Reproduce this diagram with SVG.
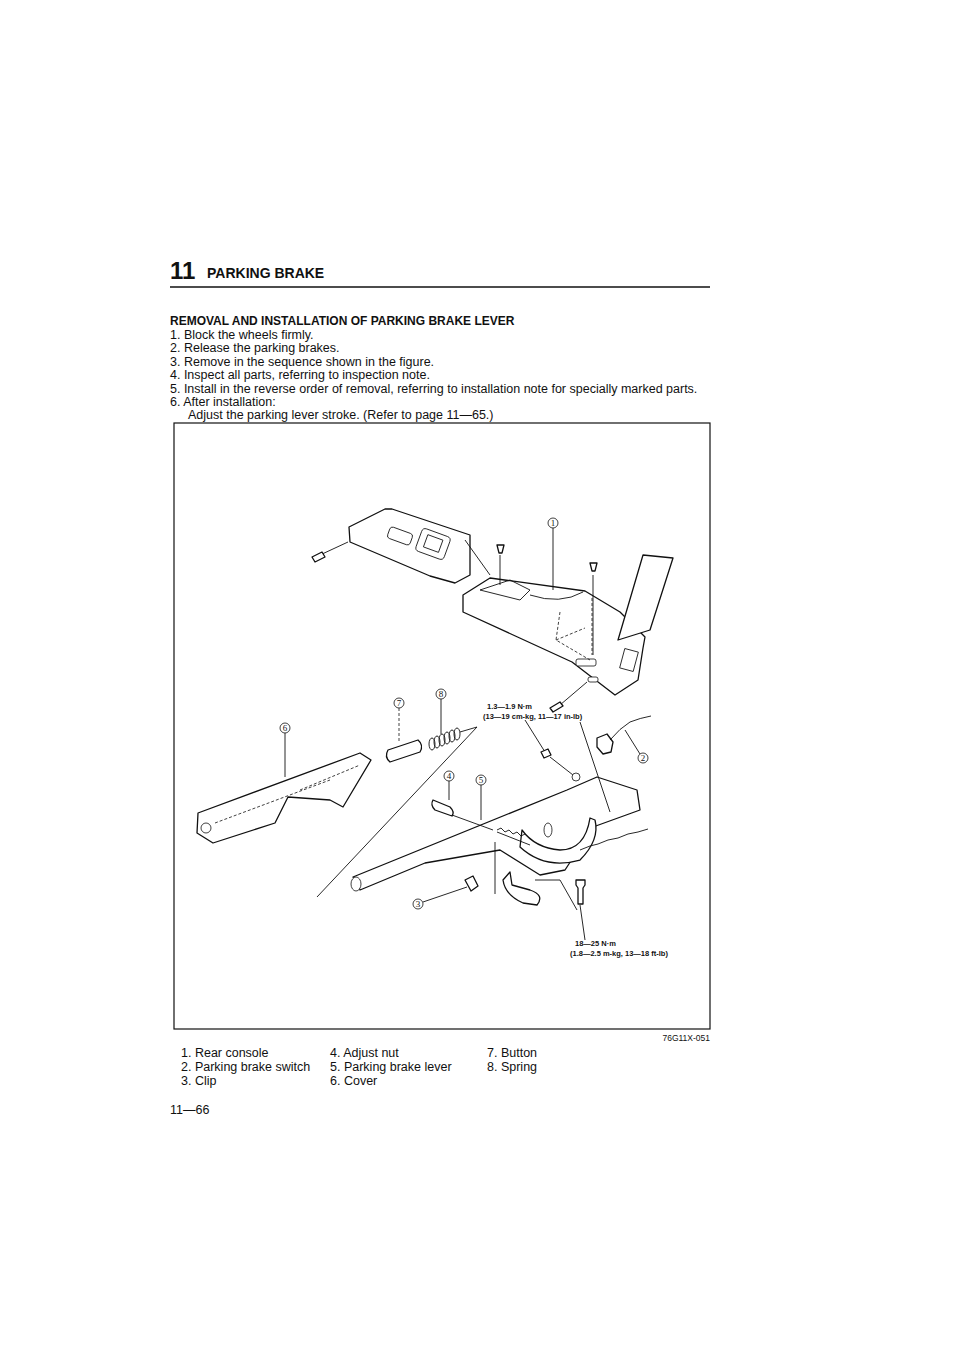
<svg xmlns="http://www.w3.org/2000/svg" width="960" height="1357" viewBox="0 0 960 1357">
<style>
text{font-family:"Liberation Sans",Arial,sans-serif;fill:#111}
.b{font-weight:bold}
.t{font-size:12.5px}
.s{font-size:7.5px;font-weight:bold}
.p{fill:#fff;stroke:#111;stroke-width:1.3;stroke-linejoin:round}
.l{fill:none;stroke:#111;stroke-width:0.9}
.d{fill:none;stroke:#111;stroke-width:0.8;stroke-dasharray:3 2}
.c{fill:#fff;stroke:#111;stroke-width:0.8}
.n{font-family:"Liberation Serif",serif;font-size:9px;text-anchor:middle}
</style>
<rect width="960" height="1357" fill="#fff"/>
<g id="header">
<text x="170" y="279" class="b" font-size="24">11</text>
<text x="207" y="278" class="b" font-size="14">PARKING BRAKE</text>
<line x1="170" y1="287" x2="710" y2="287" stroke="#111" stroke-width="1.5"/>
</g>
<g id="instructions" font-size="12.5">
<text x="170" y="325" class="b" font-size="12">REMOVAL AND INSTALLATION OF PARKING BRAKE LEVER</text>
<text x="170" y="338.5">1. Block the wheels firmly.</text>
<text x="170" y="352">2. Release the parking brakes.</text>
<text x="170" y="365.5">3. Remove in the sequence shown in the figure.</text>
<text x="170" y="379">4. Inspect all parts, referring to inspection note.</text>
<text x="170" y="392.5">5. Install in the reverse order of removal, referring to installation note for specially marked parts.</text>
<text x="170" y="406">6. After installation:</text>
<text x="188" y="419">Adjust the parking lever stroke. (Refer to page 11—65.)</text>
</g>
<rect x="174" y="423" width="536" height="606" fill="none" stroke="#111" stroke-width="1.2"/>
<g id="front-trim">
<path class="p" d="M349,527 L350,542 L430,576 L455,583 L470,575 L470,535 L392,509 L385,509 Z"/>
<rect class="c" x="388" y="530" width="24" height="12" rx="3" transform="rotate(20 400 536)"/>
<rect class="c" x="418" y="532" width="30" height="24" rx="4" transform="rotate(20 433 544)"/>
<rect class="c" x="425" y="537" width="16" height="13" transform="rotate(20 433 544)"/>
<line class="l" x1="320" y1="555" x2="348" y2="542"/>
<path class="p" d="M312,557 l10,-5 l3,5 l-10,5 z"/>
<line class="l" x1="465" y1="540" x2="490" y2="575"/>
</g>
<g id="rear-console">
<path class="p" d="M463,595 L490,578 L585,591 L620,612 L645,637 L643,648 L638,680 L615,695 L572,662 L463,612 Z"/>
<path class="p" d="M643,555 L673,558 L650,630 L618,640 Z"/>
<path class="l" d="M480,590 L510,580 L530,590 L520,600 Z M530,595 Q560,605 583,592"/>
<rect class="c" x="622" y="650" width="14" height="20" transform="rotate(15 629 660)"/>
<rect class="c" x="576" y="659" width="20" height="7" rx="2"/>
<rect class="c" x="588" y="677" width="10" height="5" rx="2"/>
<path class="d" d="M560,612 L556,640 L590,660 M556,640 L585,628 M592,598 L592,655"/>
<line class="l" x1="500" y1="555" x2="500" y2="585"/>
<path class="p" d="M497,545 h7 l-2,8 h-3 z"/>
<line class="l" x1="593" y1="575" x2="593" y2="655"/>
<path class="p" d="M590,563 h7 l-2,8 h-3 z"/>
<line class="l" x1="560" y1="705" x2="587" y2="682"/>
<path class="p" d="M550,708 l10,-6 l3,4 l-10,6 z"/>
<circle class="c" cx="553" cy="523" r="5"/><text class="n" x="553" y="526">1</text>
<line class="l" x1="553" y1="528" x2="553" y2="590"/>
</g>
<g id="cover">
<path class="p" d="M198,813 L360,753 L371,760 L343,807 L330,800 L288,797 L275,823 L213,843 L197,833 Z"/>
<circle class="c" cx="206" cy="828" r="5"/>
<path class="d" d="M215,823 L330,780 M300,790 L360,765"/>
<circle class="c" cx="285" cy="728" r="5"/><text class="n" x="285" y="731">6</text>
<line class="l" x1="285" y1="733" x2="285" y2="777"/>
</g>
<g id="button-spring">
<path class="p" d="M388,750 L418,740 Q424,745 420,752 L390,762 Q384,757 388,750 Z"/>
<circle class="c" cx="399" cy="703" r="5"/><text class="n" x="399" y="706">7</text>
<line class="d" x1="399" y1="708" x2="399" y2="743"/>
<g class="l" stroke-width="1.4">
<ellipse cx="432" cy="744" rx="3" ry="6"/><ellipse cx="437" cy="742" rx="3" ry="6"/><ellipse cx="442" cy="740" rx="3" ry="6"/><ellipse cx="447" cy="738" rx="3" ry="6"/><ellipse cx="452" cy="736" rx="3" ry="6"/><ellipse cx="457" cy="734" rx="3" ry="6"/>
</g>
<circle class="c" cx="441" cy="694" r="5"/><text class="n" x="441" y="697">8</text>
<line class="l" x1="441" y1="699" x2="441" y2="734"/>
</g>
<g id="lever">
<line class="l" x1="317" y1="897" x2="477" y2="727"/>
<line class="l" x1="460" y1="732" x2="477" y2="727"/>
<path class="p" d="M353,877 L567,790 L597,777 L637,790 L640,810 L593,827 L565,870 L540,875 L500,850 L425,863 L360,890 Z"/>
<ellipse class="c" cx="356" cy="884" rx="5" ry="7"/>
<path class="p" d="M520,847 Q545,870 580,860 Q600,840 595,820 L590,818 Q585,850 560,850 Q535,848 522,830 Z"/>
<ellipse class="c" cx="548" cy="830" rx="4" ry="7"/>
<path class="l" d="M497,832 L530,845 M497,830 l4,-2 l4,4 l4,-2 l4,4 l4,-2 l4,4 l4,-2"/>
<path class="l" d="M580,850 l10,-4 l8,-2 l10,-4 l10,-2 l10,-4 l10,-2 l10,-3"/>
<path class="p" d="M503,880 Q505,895 523,903 L537,905 Q545,895 530,890 L512,885 L510,872 Z"/>
<line class="l" x1="495" y1="842" x2="495" y2="894"/>
<circle class="c" cx="481" cy="780" r="5"/><text class="n" x="481" y="783">5</text>
<line class="l" x1="481" y1="785" x2="481" y2="820"/>
<path class="p" d="M433,800 L450,807 Q455,812 452,816 L435,810 Q430,805 433,800 Z"/>
<circle class="c" cx="449" cy="776" r="5"/><text class="n" x="449" y="779">4</text>
<line class="l" x1="449" y1="781" x2="449" y2="800"/>
<line class="l" x1="452" y1="815" x2="493" y2="830"/>
<path class="p" d="M465,880 l8,-4 l5,10 l-7,5 z"/>
<circle class="c" cx="418" cy="904" r="5"/><text class="n" x="418" y="907">3</text>
<line class="l" x1="423" y1="902" x2="467" y2="887"/>
<path class="l" d="M535,880 L560,880 L577,910"/>
<path class="p" d="M576,880 h9 v5 l-2,3 v16 h-5 v-16 l-2,-3 z"/>
<line class="l" x1="580" y1="905" x2="585" y2="940"/>
<text class="s" x="575" y="946">18—25 N·m</text>
<text class="s" x="570" y="956">(1.8—2.5 m-kg, 13—18 ft-lb)</text>
</g>
<g id="switch">
<text class="s" x="487" y="709">1.3—1.9 N·m</text>
<text class="s" x="483" y="719">(13—19 cm-kg, 11—17 in-lb)</text>
<line class="l" x1="525" y1="720" x2="545" y2="752"/>
<path class="p" d="M541,752 l7,-3 l3,6 l-7,3 z"/>
<line class="l" x1="550" y1="757" x2="573" y2="775"/>
<circle class="c" cx="576" cy="777" r="4"/>
<path class="p" d="M597,738 l10,-4 l6,8 l-2,10 l-8,2 l-6,-7 z"/>
<path class="l" d="M610,740 Q620,728 630,722 Q640,718 651,716"/>
<line class="l" x1="580" y1="722" x2="610" y2="812"/>
<circle class="c" cx="643" cy="758" r="5"/><text class="n" x="643" y="761">2</text>
<line class="l" x1="640" y1="754" x2="625" y2="730"/>
</g>
<g id="footer">
<text x="710" y="1041" font-size="8.5" text-anchor="end">76G11X-051</text>
<text x="181" y="1057" class="t">1. Rear console</text>
<text x="181" y="1071" class="t">2. Parking brake switch</text>
<text x="181" y="1085" class="t">3. Clip</text>
<text x="330" y="1057" class="t">4. Adjust nut</text>
<text x="330" y="1071" class="t">5. Parking brake lever</text>
<text x="330" y="1085" class="t">6. Cover</text>
<text x="487" y="1057" class="t">7. Button</text>
<text x="487" y="1071" class="t">8. Spring</text>
<text x="170" y="1114" class="t">11—66</text>
</g>
</svg>
